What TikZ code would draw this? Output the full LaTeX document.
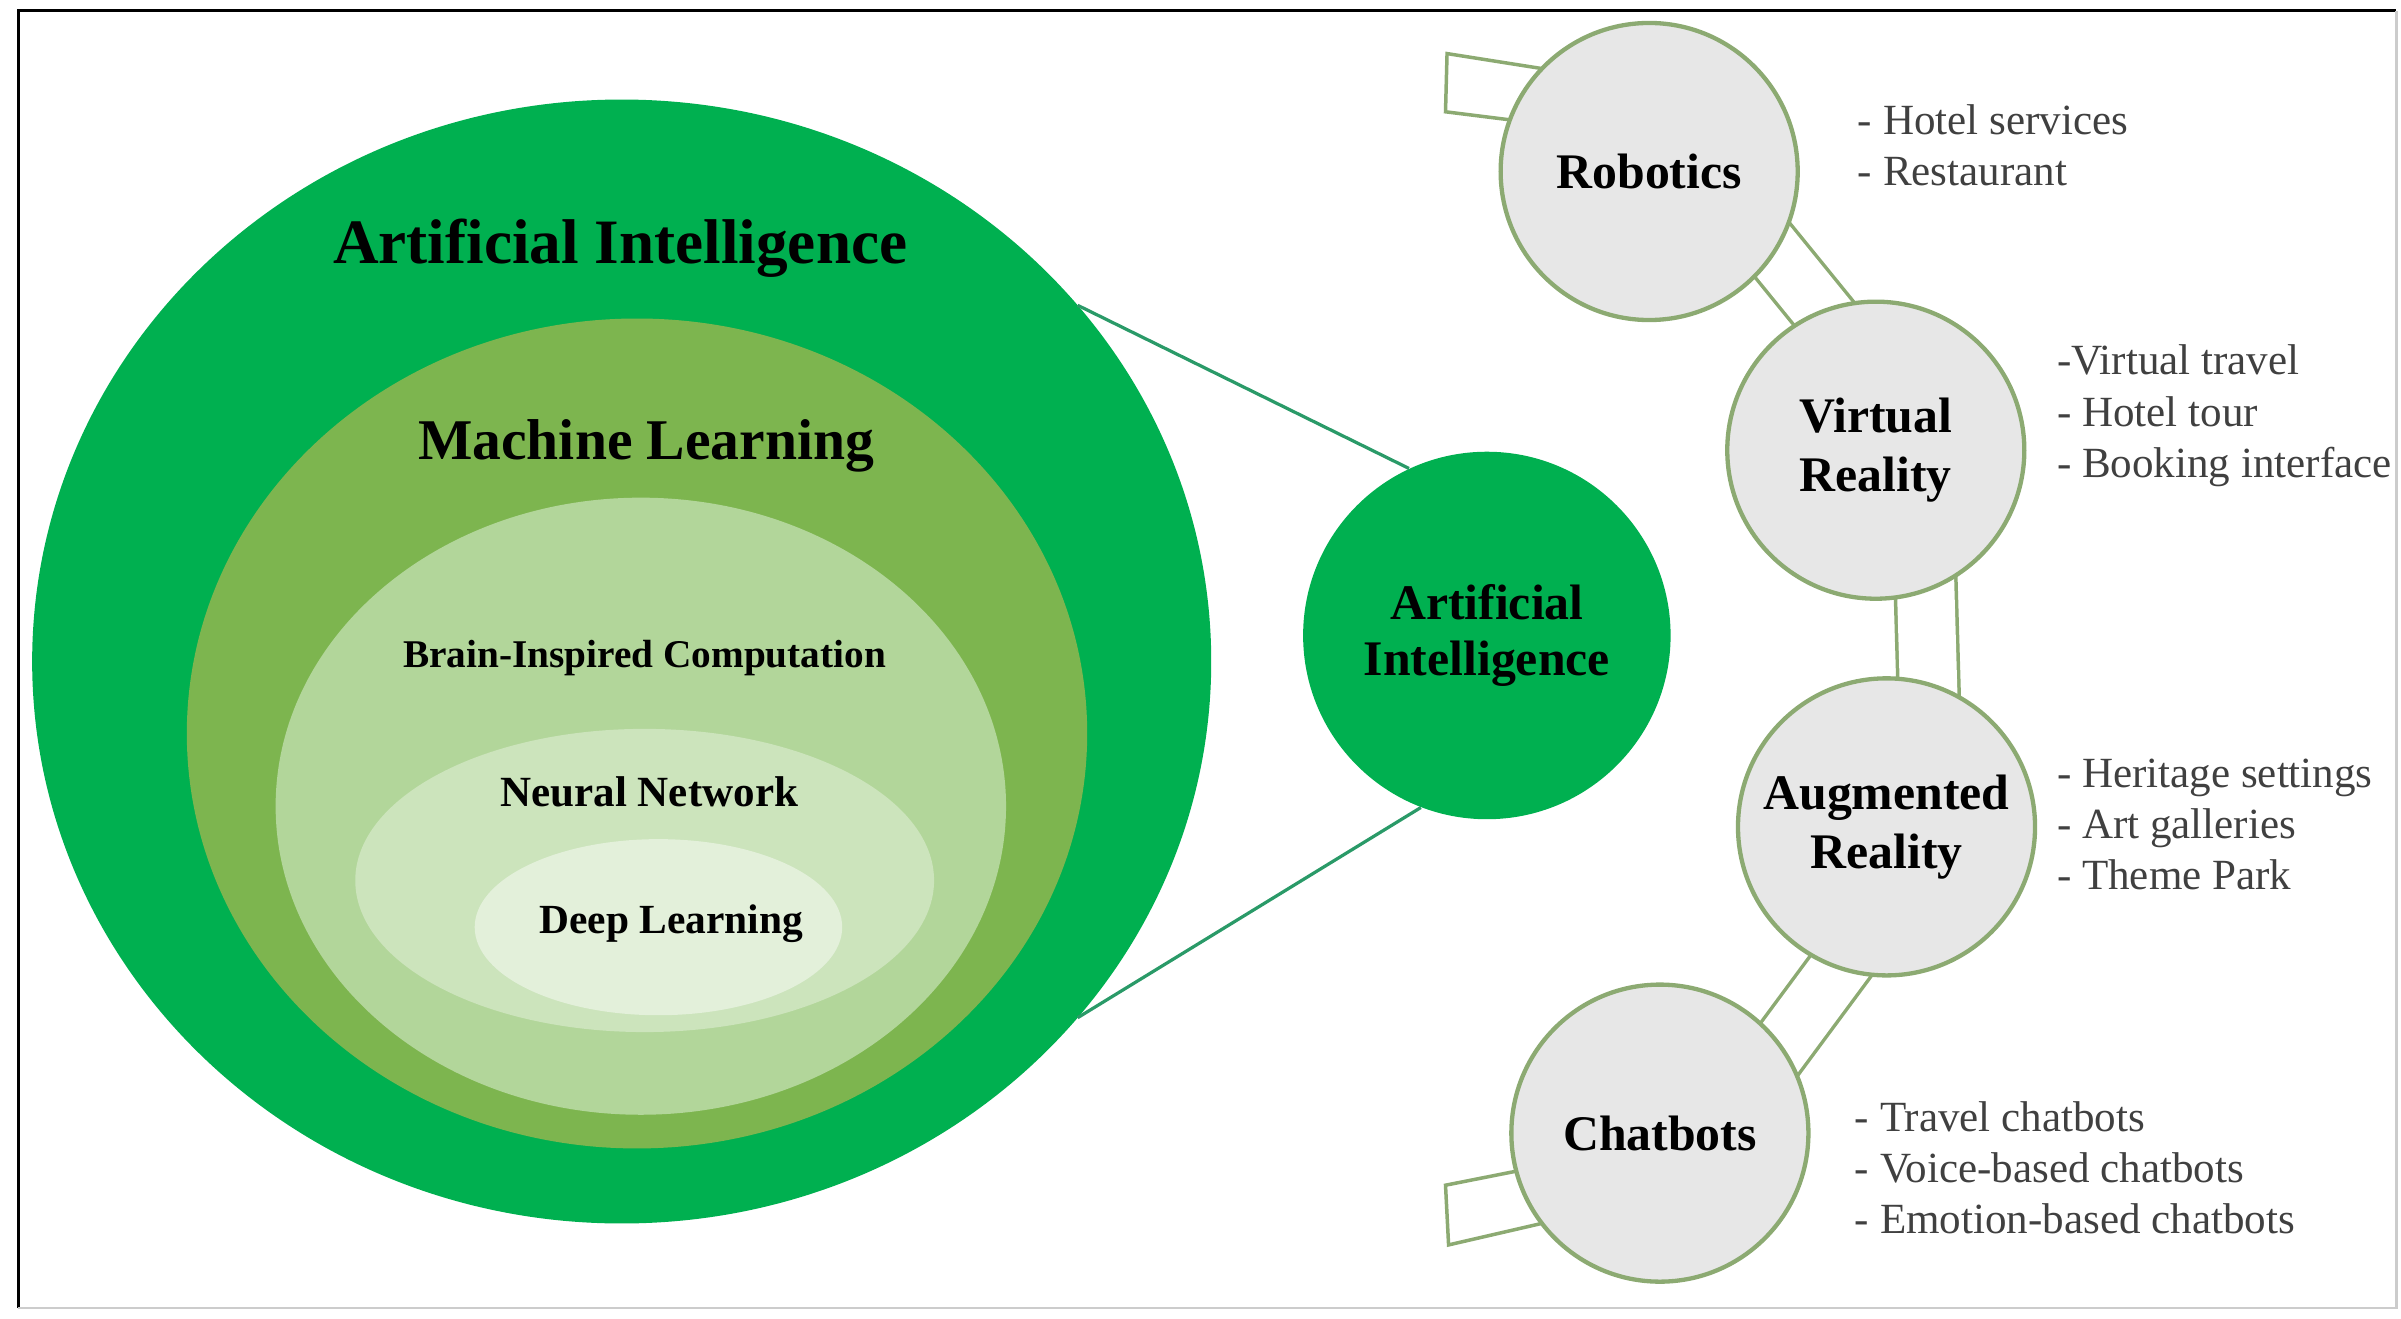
\documentclass[tikz,border=0pt]{standalone}
\usepackage{fontspec}
\setmainfont{Liberation Serif}
\usetikzlibrary{positioning, calc, shapes.geometric, backgrounds}

\definecolor{aigreen}{HTML}{00B050}
\definecolor{mlgreen}{HTML}{7DB54F}
\definecolor{bicgreen}{HTML}{B2D69A}
\definecolor{nngreen}{HTML}{CCE4BC}
\definecolor{dlgreen}{HTML}{E3F0DA}
\definecolor{linkgreen}{HTML}{2A9A68}
\definecolor{ringgreen}{HTML}{8CAA72}
\definecolor{techgray}{HTML}{E7E7E7}
\definecolor{listgray}{HTML}{404040}

\begin{document}
\begin{tikzpicture}[
	blob/.style={ellipse, inner sep=0pt, outer sep=0pt},
	tech/.style={circle, draw=ringgreen, line width=1.6pt, fill=techgray, minimum size=3.88cm, inner sep=0pt, align=center, font=\fontsize{18.5}{22}\selectfont\bfseries},
	pipe/.style={draw=ringgreen, line width=1.3pt, double=white, double distance=0.75cm},
	uses/.style={anchor=west, align=left, inner sep=0pt, text=listgray, font=\fontsize{16}{19}\selectfont},
	link/.style={draw=linkgreen, line width=1.2pt}]

	\useasboundingbox (0,0) rectangle (31.36,17.22);
	\draw[line width=1.2pt] (0.24,0.14) -- (0.24,17.08) -- (31.3,17.08);
	\draw[line width=0.8pt, black!20] (31.3,17.08) -- (31.3,0.14) -- (0.24,0.14);

	\node[blob, fill=aigreen, minimum width=15.4cm, minimum height=14.68cm] (ai) at (8.12,8.58) {};
	\node[blob, fill=mlgreen, minimum width=11.76cm, minimum height=10.84cm] (ml) at (8.32,7.64) {};
	\node[blob, fill=bicgreen, minimum width=9.54cm, minimum height=8.06cm] (bic) at (8.37,6.69) {};
	\node[blob, fill=nngreen, minimum width=7.56cm, minimum height=3.96cm] (nn) at (8.42,5.72) {};
	\node[blob, fill=dlgreen, minimum width=4.8cm, minimum height=2.3cm] (dl) at (8.60,5.11) {};

	\node[anchor=base, font=\fontsize{23.5}{28}\selectfont\bfseries] (aiText) at (8.10,13.78) {Artificial Intelligence};
	\node[anchor=base, font=\fontsize{21.4}{26}\selectfont\bfseries] (mlText) at (8.44,11.22) {Machine Learning};
	\node[anchor=base, font=\fontsize{14.6}{18}\selectfont\bfseries] (bicText) at (8.42,8.50) {Brain-Inspired Computation};
	\node[anchor=base, font=\fontsize{16}{19}\selectfont\bfseries] (nnText) at (8.48,6.68) {Neural Network};
	\node[anchor=base, font=\fontsize{15.4}{18}\selectfont\bfseries] (dlText) at (8.77,5.03) {Deep Learning};

	\node[circle, fill=aigreen, minimum size=4.8cm, inner sep=0pt, align=center, font=\fontsize{18.5}{21}\selectfont\bfseries] (aic) at (19.42,8.92) {Artificial\\Intelligence};
	\draw[link] (ai.38.8) -- (aic.115);
	\draw[link] (ai.-38.4) -- (aic.-111);

	\node[tech] (rob) at (21.54,14.98) {Robotics};
	\node[tech] (vr) at (24.50,11.34) {Virtual\\Reality};
	\node[tech] (ar) at (24.64,6.42) {Augmented\\Reality};
	\node[tech] (chat) at (21.68,2.42) {Chatbots};

	\begin{scope}[on background layer]
		\draw[pipe] ($(rob)!0.6cm!90:(vr)$) -- ($(vr)!0.6cm!-90:(rob)$);
		\draw[pipe] ($(vr)!0.6cm!90:(ar)$) -- ($(ar)!0.6cm!-90:(vr)$);
		\draw[pipe] ($(ar)!0.6cm!90:(chat)$) -- ($(chat)!0.6cm!-90:(ar)$);
		\draw[ringgreen, line width=1.3pt] ($(rob)+(-0.74,1.24)$) -- ($(rob)+(-2.64,1.54)$) -- ($(rob)+(-2.66,0.78)$) -- ($(rob)+(-0.74,0.54)$);
		\draw[ringgreen, line width=1.3pt] ($(chat)+(-0.68,-0.26)$) -- ($(chat)+(-2.80,-0.68)$) -- ($(chat)+(-2.76,-1.46)$) -- ($(chat)+(-0.68,-0.98)$);
	\end{scope}

	\node[uses] (robUse) at (24.26,15.32) {- Hotel services\\- Restaurant};
	\node[uses] (vrUse) at (26.86,11.79) {-Virtual travel\\- Hotel tour\\- Booking interface};
	\node[uses] (arUse) at (26.86,6.45) {- Heritage settings\\- Art galleries\\- Theme Park};
	\node[uses] (chatUse) at (24.22,1.97) {- Travel chatbots\\- Voice-based chatbots\\- Emotion-based chatbots};
\end{tikzpicture}
\end{document}
